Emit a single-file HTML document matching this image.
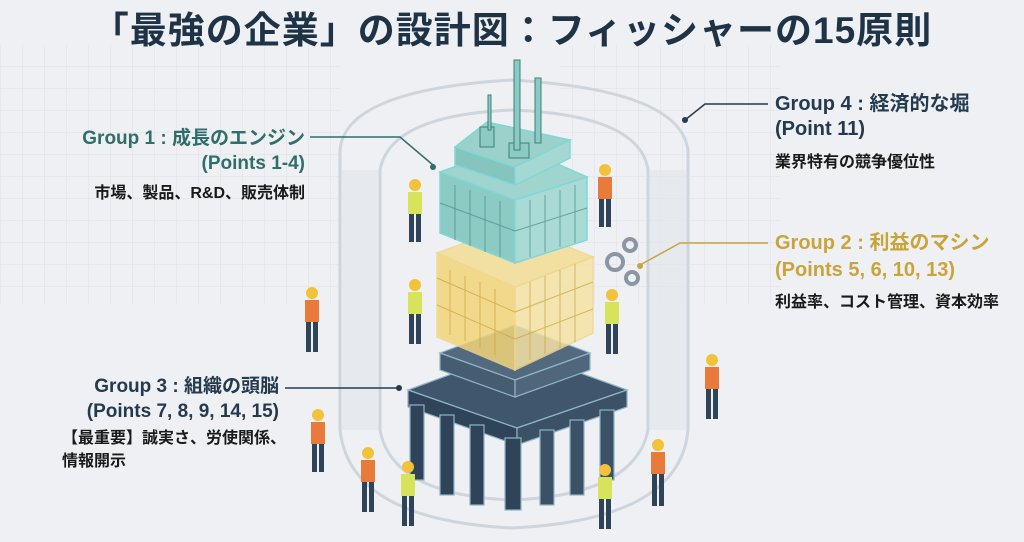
<!DOCTYPE html>
<html><head><meta charset="utf-8"><style>
html,body{margin:0;padding:0}
body{width:1024px;height:542px;overflow:hidden;background:#eef0f3;position:relative;font-family:"Liberation Sans","Noto Sans CJK JP",sans-serif}
.t{position:absolute;white-space:nowrap;font-weight:bold}
</style></head><body>
<svg width="1024" height="542" style="position:absolute;left:0;top:0">
<defs>
<pattern id="g" width="22" height="22" patternUnits="userSpaceOnUse"><path d="M22 0H0V22" fill="none" stroke="#dde1e6" stroke-width="1"/></pattern>
</defs>
<rect x="0" y="45" width="340" height="260" fill="url(#g)"/>
<rect x="560" y="45" width="220" height="260" fill="url(#g)"/>
<g fill="none" stroke="#cfd5dc" stroke-width="3">
<path d="M340 430 V150 Q345 90 512 80 Q680 90 688 150 V430"/>
<path d="M380 430 V170 Q390 115 512 110 Q640 115 648 170 V430"/>
<path d="M340 430 Q350 520 512 528 Q680 520 688 430"/>
<path d="M380 430 Q392 495 512 500 Q635 495 648 430"/>
</g>
<rect x="342" y="170" width="36" height="260" fill="#e2e6ea" opacity=".7"/>
<rect x="650" y="170" width="36" height="260" fill="#e2e6ea" opacity=".7"/>
<path d="M310 137 H400 L433 165" stroke="#2f6e6a" stroke-width="1.5" fill="none"/><circle cx="433" cy="167" r="3" fill="#2f6e6a"/>
<path d="M768 104 H705 L685 120" stroke="#243a4f" stroke-width="1.5" fill="none"/><circle cx="685" cy="120" r="3" fill="#243a4f"/>
<path d="M768 243 H680 L640 265" stroke="#c9a43a" stroke-width="1.5" fill="none"/><circle cx="640" cy="266" r="3" fill="#c9a43a"/>
<path d="M285 388 H398" stroke="#243a4f" stroke-width="1.5"/><circle cx="399" cy="388" r="3" fill="#243a4f"/>
<g stroke="#8fb4c8" stroke-width="1.2">
<path d="M408 390 L517 350 L627 390 L517 428Z" fill="#40566c"/>
<path d="M408 390 L517 428 V445 L408 407Z" fill="#2f4458"/>
<path d="M517 428 L627 390 V407 L517 445Z" fill="#3a5166"/>
<g fill="#2f4458">
<rect x="410" y="405" width="14" height="75"/><rect x="440" y="415" width="14" height="80"/><rect x="470" y="425" width="14" height="80"/><rect x="505" y="438" width="16" height="72"/>
</g>
<g fill="#3a5166">
<rect x="540" y="430" width="14" height="75"/><rect x="570" y="420" width="14" height="75"/><rect x="600" y="410" width="14" height="70"/>
</g>
<path d="M440 353 L515 325 L590 353 L515 380Z" fill="#53697d"/>
<path d="M440 353 L515 380 V397 L440 370Z" fill="#465c70"/>
<path d="M515 380 L590 353 V370 L515 397Z" fill="#50677b"/>
</g>
<g stroke="#f0d78a" stroke-width="1.5">
<path d="M437 253 L515 225 L593 257 L515 287Z" fill="#f3dd95" opacity=".85"/>
<path d="M437 253 L515 287 V370 L437 337Z" fill="#f2d47a" opacity=".85"/>
<path d="M515 287 L593 257 V333 L515 370Z" fill="#f6e2a4" opacity=".85"/>
</g>
<g stroke="#c9a43a" stroke-width="1" fill="none" opacity=".7">
<path d="M450 270 V335 M465 276 V341 M480 282 V348 M495 289 V355 M437 278 L515 312 M437 305 L515 339"/>
<path d="M530 282 V360 M545 276 V354 M560 270 V348 M575 264 V342 M515 312 L593 282 M515 339 L593 309"/>
</g>
<g stroke="#7fd8d6" stroke-width="1.5">
<path d="M440 172 L515 145 L587 177 L515 200Z" fill="#9fd4cf"/>
<path d="M440 172 L515 200 V263 L440 233Z" fill="#8ccac4"/>
<path d="M515 200 L587 177 V240 L515 263Z" fill="#a9dad5"/>
<path d="M455 147 L487 122 L570 140 L515 167Z" fill="#9bd0cb"/>
<path d="M455 147 L515 167 V185 L455 165Z" fill="#86c4be"/>
<path d="M515 167 L570 140 V158 L515 185Z" fill="#a5d8d2"/>
</g>
<g stroke="#3d7f7a" stroke-width="1" fill="none" opacity=".6">
<path d="M455 185 V240 M470 190 V246 M485 196 V252 M500 201 V257 M440 203 L515 231"/>
<path d="M530 200 V257 M545 195 V252 M560 190 V247 M575 185 V243 M515 231 L587 208"/>
</g>
<g fill="#8ccac4" stroke="#3d7f7a" stroke-width="1">
<rect x="480" y="127" width="14" height="20"/><rect x="509" y="143" width="20" height="15"/>
<rect x="514" y="60" width="6" height="90"/><rect x="535" y="78" width="6" height="65"/><rect x="488" y="95" width="3" height="35"/>
</g>
<g fill="#2f4458">
<g transform="translate(415,180)"><circle cx="0" cy="5" r="6" fill="#f2c23b"/><rect x="-7" y="12" width="14" height="22" fill="#d7e35a"/><rect x="-6" y="34" width="5" height="28"/><rect x="1" y="34" width="5" height="28"/></g>
<g transform="translate(605,165)"><circle cx="0" cy="5" r="6" fill="#f2c23b"/><rect x="-7" y="12" width="14" height="22" fill="#e87b3a"/><rect x="-6" y="34" width="5" height="28"/><rect x="1" y="34" width="5" height="28"/></g>
<g transform="translate(415,280)"><circle cx="0" cy="5" r="6" fill="#f2c23b"/><rect x="-7" y="12" width="14" height="22" fill="#d7e35a"/><rect x="-6" y="34" width="5" height="30"/><rect x="1" y="34" width="5" height="30"/></g>
<g transform="translate(612,290)"><circle cx="0" cy="5" r="6" fill="#f2c23b"/><rect x="-7" y="12" width="14" height="22" fill="#d7e35a"/><rect x="-6" y="34" width="5" height="30"/><rect x="1" y="34" width="5" height="30"/></g>
<g transform="translate(312,288)"><circle cx="0" cy="5" r="6" fill="#f2c23b"/><rect x="-7" y="12" width="14" height="22" fill="#e87b3a"/><rect x="-6" y="34" width="5" height="30"/><rect x="1" y="34" width="5" height="30"/></g>
<g transform="translate(712,355)"><circle cx="0" cy="5" r="6" fill="#f2c23b"/><rect x="-7" y="12" width="14" height="22" fill="#e87b3a"/><rect x="-6" y="34" width="5" height="30"/><rect x="1" y="34" width="5" height="30"/></g>
<g transform="translate(318,410)"><circle cx="0" cy="5" r="6" fill="#f2c23b"/><rect x="-7" y="12" width="14" height="22" fill="#e87b3a"/><rect x="-6" y="34" width="5" height="28"/><rect x="1" y="34" width="5" height="28"/></g>
<g transform="translate(368,448)"><circle cx="0" cy="5" r="6" fill="#f2c23b"/><rect x="-7" y="12" width="14" height="22" fill="#e87b3a"/><rect x="-6" y="34" width="5" height="30"/><rect x="1" y="34" width="5" height="30"/></g>
<g transform="translate(408,462)"><circle cx="0" cy="5" r="6" fill="#f2c23b"/><rect x="-7" y="12" width="14" height="22" fill="#d7e35a"/><rect x="-6" y="34" width="5" height="30"/><rect x="1" y="34" width="5" height="30"/></g>
<g transform="translate(605,465)"><circle cx="0" cy="5" r="6" fill="#f2c23b"/><rect x="-7" y="12" width="14" height="22" fill="#d7e35a"/><rect x="-6" y="34" width="5" height="30"/><rect x="1" y="34" width="5" height="30"/></g>
<g transform="translate(658,440)"><circle cx="0" cy="5" r="6" fill="#f2c23b"/><rect x="-7" y="12" width="14" height="22" fill="#e87b3a"/><rect x="-6" y="34" width="5" height="32"/><rect x="1" y="34" width="5" height="32"/></g>
</g>
<g fill="none" stroke="#8a96a3" stroke-width="4">
<circle cx="615" cy="262" r="8"/><circle cx="630" cy="245" r="6"/><circle cx="632" cy="278" r="6"/>
</g>
</svg>
<div class="t" style="left:0;width:1024px;top:0px;text-align:center;font-size:37px;color:#1f3347;letter-spacing:1px">「最強の企業」の設計図：フィッシャーの15原則</div>
<div class="t" style="right:719px;top:126px;font-size:19px;color:#2f6e6a;text-align:right;line-height:25px">Group 1 : 成長のエンジン<br>(Points 1-4)</div>
<div class="t" style="right:719px;top:179px;font-size:16px;color:#1a1a1a">市場、製品、R&amp;D、販売体制</div>
<div class="t" style="left:775px;top:92px;font-size:20px;color:#243a4f;line-height:25px">Group 4 : 経済的な堀<br>(Point 11)</div>
<div class="t" style="left:775px;top:148px;font-size:16px;color:#1a1a1a">業界特有の競争優位性</div>
<div class="t" style="left:775px;top:230px;font-size:20px;color:#c9a43a;line-height:27px">Group 2 : 利益のマシン<br>(Points 5, 6, 10, 13)</div>
<div class="t" style="left:775px;top:288px;font-size:16px;color:#1a1a1a">利益率、コスト管理、資本効率</div>
<div class="t" style="right:745px;top:374px;font-size:19px;color:#243a4f;text-align:right;line-height:25px">Group 3 : 組織の頭脳<br>(Points 7, 8, 9, 14, 15)</div>
<div class="t" style="left:62px;top:427px;font-size:16px;color:#1a1a1a;line-height:23px">【最重要】誠実さ、労使関係、<br>情報開示</div>
</body></html>
